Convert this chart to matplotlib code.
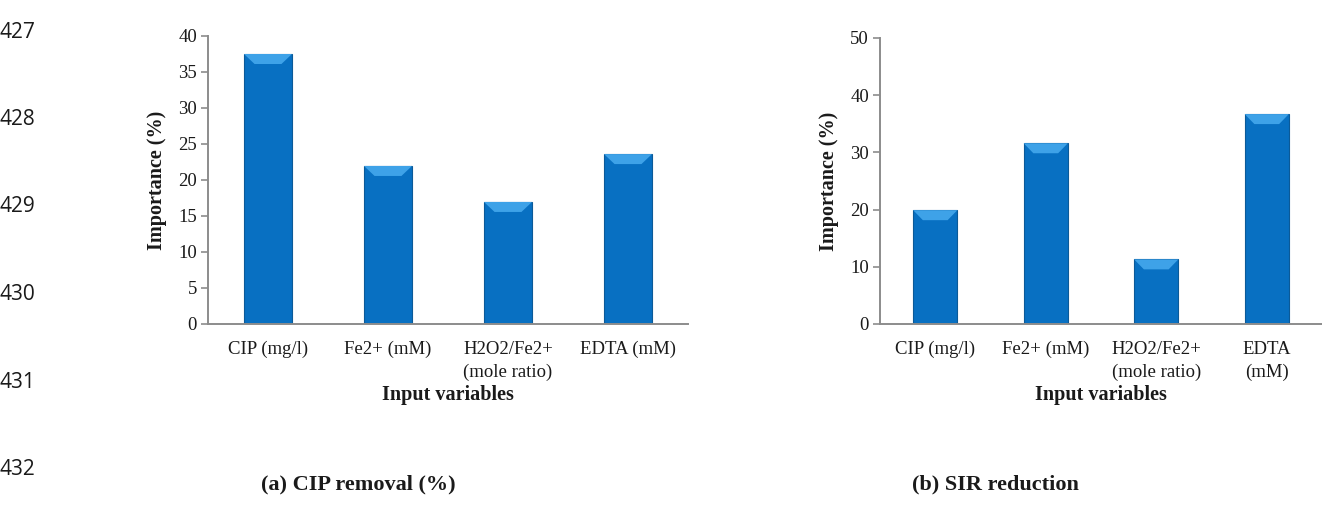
import matplotlib
matplotlib.use("Agg")
import matplotlib.pyplot as plt
from matplotlib.patches import Polygon

CATS_A = ["CIP (mg/l)", "Fe2+ (mM)", "H2O2/Fe2+\n(mole ratio)", "EDTA (mM)"]
VALS_A = [37.5, 21.95, 16.95, 23.6]
CATS_B = ["CIP (mg/l)", "Fe2+ (mM)", "H2O2/Fe2+\n(mole ratio)", "EDTA\n(mM)"]
VALS_B = [19.9, 31.6, 11.3, 36.7]
LINE_NUMS = ["427", "428", "429", "430", "431", "432", "433"]

BLUE = "#0870c2"
LIGHT = "#3ea2e8"
EDGE = "#0b5a98"
AXIS = "#8c8c8c"
INK = "#1a1a1a"
SERIF = "Liberation Serif"

W, H = 1322, 514
fig = plt.figure(figsize=(W / 100, H / 100), dpi=100)


def bevel_bars(ax, cats, vals, ymax, ticks, h_px):
    x = range(len(cats))
    bars = ax.bar(x, vals, width=0.4, color=BLUE, edgecolor=EDGE,
                  linewidth=0.8, zorder=2)
    dy = ymax * 10 / h_px
    for b in bars:
        x0, x1, top = b.get_x(), b.get_x() + b.get_width(), b.get_height()
        d = b.get_width() * 0.22
        ax.add_patch(Polygon([(x0, top), (x1, top), (x1 - d, top - dy),
                              (x0 + d, top - dy)], closed=True,
                             facecolor=LIGHT, edgecolor="none", zorder=3))
    ax.set_xlim(-0.5, len(cats) - 0.5)
    ax.set_ylim(0, ymax)
    ax.set_yticks(ticks)
    ax.set_xticks(list(x))
    ax.set_xticklabels(cats, fontfamily=SERIF, fontsize=13.5, color=INK,
                       linespacing=1.45)
    for lab in ax.get_yticklabels():
        lab.set_fontfamily(SERIF)
        lab.set_fontsize(13.5)
        lab.set_color(INK)
    for s in ("top", "right"):
        ax.spines[s].set_visible(False)
    for s in ("left", "bottom"):
        ax.spines[s].set_color(AXIS)
        ax.spines[s].set_linewidth(1.4)
    ax.tick_params(axis="y", length=5, color=AXIS, width=1.2, pad=3)
    ax.tick_params(axis="x", length=0, pad=12)
    ax.set_xlabel("Input variables", fontfamily=SERIF, fontweight="bold",
                  fontsize=14.5, color=INK, labelpad=3)
    ax.set_ylabel("Importance (%)", fontfamily=SERIF, fontweight="bold",
                  fontsize=14.5, color=INK, labelpad=8)


ax_a = fig.add_axes([208 / W, 1 - 324 / H, 480 / W, 288 / H])
bevel_bars(ax_a, CATS_A, VALS_A, 40, range(0, 41, 5), 288)

ax_b = fig.add_axes([880 / W, 1 - 324 / H, 442 / W, 286 / H])
bevel_bars(ax_b, CATS_B, VALS_B, 50, range(0, 51, 10), 286)

fig.text(358 / W, 1 - 484 / H, "(a) CIP removal (%)", ha="center",
         va="center", fontfamily=SERIF, fontweight="bold", fontsize=16,
         color=INK)
fig.text(995 / W, 1 - 484 / H, "(b) SIR reduction", ha="center",
         va="center", fontfamily=SERIF, fontweight="bold", fontsize=16,
         color=INK)

for i, n in enumerate(LINE_NUMS):
    fig.text(0, 1 - (32 + i * 87.5) / H, n, ha="left", va="center",
             fontfamily="Open Sans", fontsize=15, color=INK)

fig.savefig("out.png", dpi=100, facecolor="white")
